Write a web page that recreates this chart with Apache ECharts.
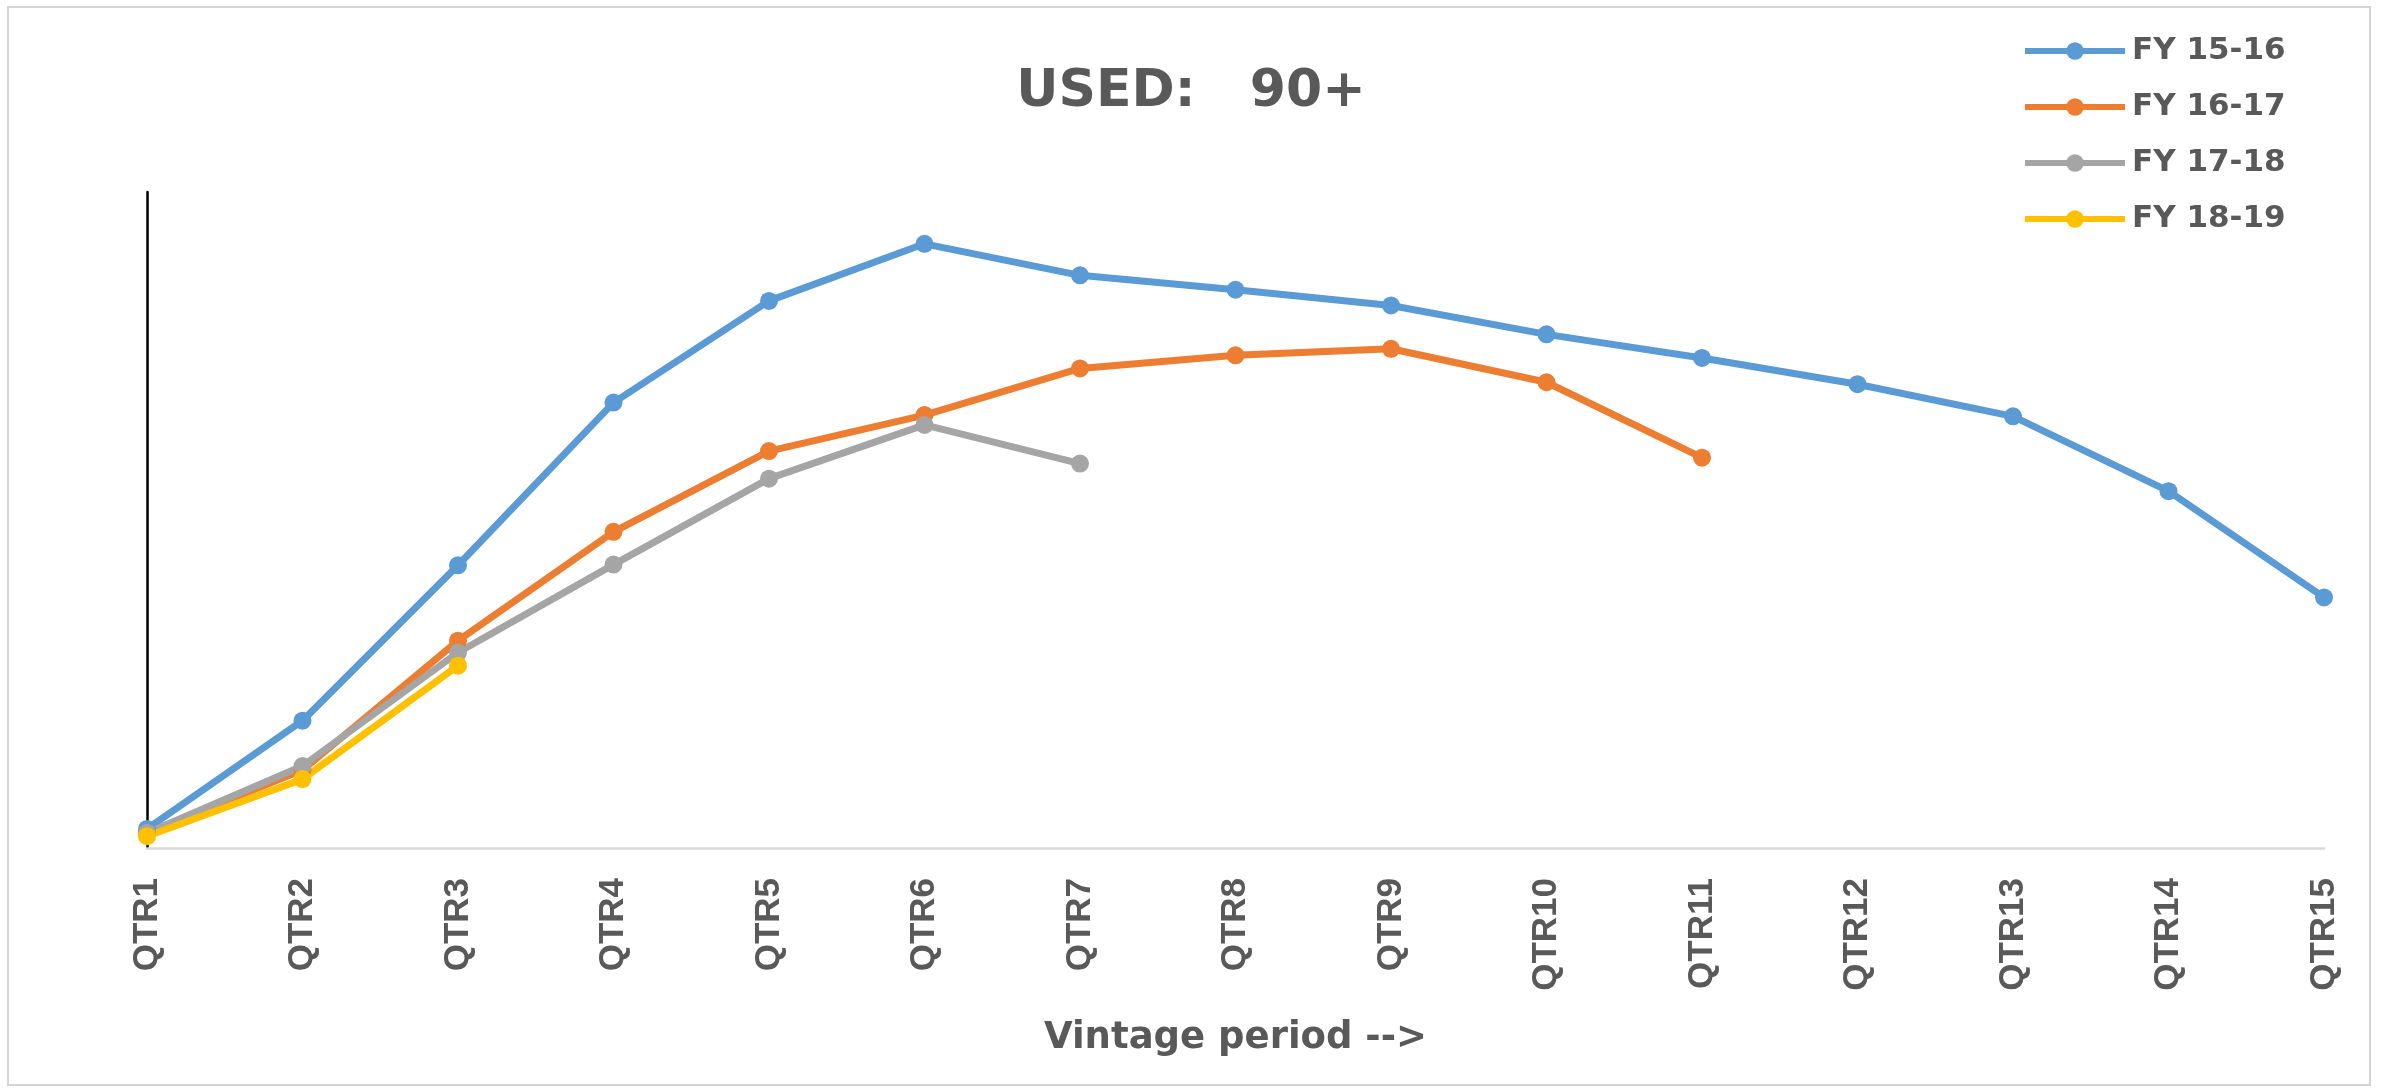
<!DOCTYPE html>
<html>
<head>
<meta charset="utf-8">
<script src="https://cdn.jsdelivr.net/npm/echarts@6/dist/echarts.min.js"></script>
<style>
html,body{margin:0;padding:0;background:#fff;}
#chart{width:2382px;height:1088px;}
</style>
</head>
<body>
<div id="chart"></div>
<script>
// Categories (vintage quarters)
const quarters = ['QTR1','QTR2','QTR3','QTR4','QTR5','QTR6','QTR7','QTR8','QTR9','QTR10','QTR11','QTR12','QTR13','QTR14','QTR15'];
// Series names
const seriesNames = ['FY 15-16','FY 16-17','FY 17-18','FY 18-19'];
// Values (arbitrary units, axis 0-10, no labels shown)
const fy1516 = [0.29,1.94,4.31,6.79,8.34,9.21,8.73,8.51,8.27,7.83,7.47,7.07,6.58,5.44,3.82];
const fy1617 = [0.23,1.19,3.16,4.82,6.05,6.60,7.31,7.51,7.61,7.10,5.95];
const fy1718 = [0.23,1.25,2.98,4.32,5.63,6.45,5.86];
const fy1819 = [0.18,1.05,2.78];
const colors = ['#5B9BD5','#ED7D31','#A5A5A5','#FFC000'];

const chart = echarts.init(document.getElementById('chart'), null, {renderer:'canvas'});
const allData = [fy1516, fy1617, fy1718, fy1819];

const option = {
  backgroundColor: '#ffffff',
  animation: false,
  color: colors,
  title: {
    text: 'USED:   90+',
    left: 'center',
    top: 66,
    padding: 0,
    textStyle: {fontFamily: 'DejaVu Sans', fontWeight: 'bold', fontSize: 52, color: '#595959'}
  },
  legend: {
    orient: 'vertical',
    left: 2022,
    top: 34,
    padding: 0,
    itemWidth: 100,
    itemHeight: 22,
    itemGap: 22,
    data: seriesNames,
    lineStyle: {width: 6},
    textStyle: {fontFamily: 'DejaVu Sans', fontWeight: 'bold', fontSize: 31, lineHeight: 34, color: '#595959', padding: [0,0,0,2]}
  },
  grid: {left: 147, right: 58, top: 192, bottom: 240, containLabel: false, outerBoundsMode: 'none'},
  xAxis: {
    type: 'category',
    data: quarters,
    boundaryGap: false,
    axisLine: {show: true, lineStyle: {color: '#d9d9d9', width: 2.5}},
    axisTick: {show: false},
    splitLine: {show: false},
    axisLabel: {rotate: 90, margin: 30, fontFamily: 'Liberation Sans', fontWeight: 'bold', fontSize: 35, color: '#595959', interval: 0},
    name: 'Vintage period -->',
    nameLocation: 'middle',
    nameGap: 172,
    nameTextStyle: {fontFamily: 'DejaVu Sans', fontWeight: 'bold', fontSize: 37, color: '#595959', verticalAlign: 'top'}
  },
  yAxis: {
    type: 'value',
    min: 0,
    max: 10,
    axisLine: {show: true, lineStyle: {color: '#000000', width: 2.5}},
    axisTick: {show: false},
    axisLabel: {show: false},
    splitLine: {show: false}
  },
  graphic: [{
    type: 'rect',
    shape: {x: 8, y: 7, width: 2362, height: 1078},
    style: {fill: 'none', stroke: '#d4d4d4', lineWidth: 2},
    silent: true,
    z: -10
  }],
  series: seriesNames.map((name, i) => ({
    name: name,
    type: 'line',
    data: allData[i],
    symbol: 'circle',
    symbolSize: 18,
    showSymbol: true,
    showAllSymbol: true,
    lineStyle: {width: 7, color: colors[i]},
    itemStyle: {color: colors[i]}
  }))
};
chart.setOption(option);
</script>
</body>
</html>
